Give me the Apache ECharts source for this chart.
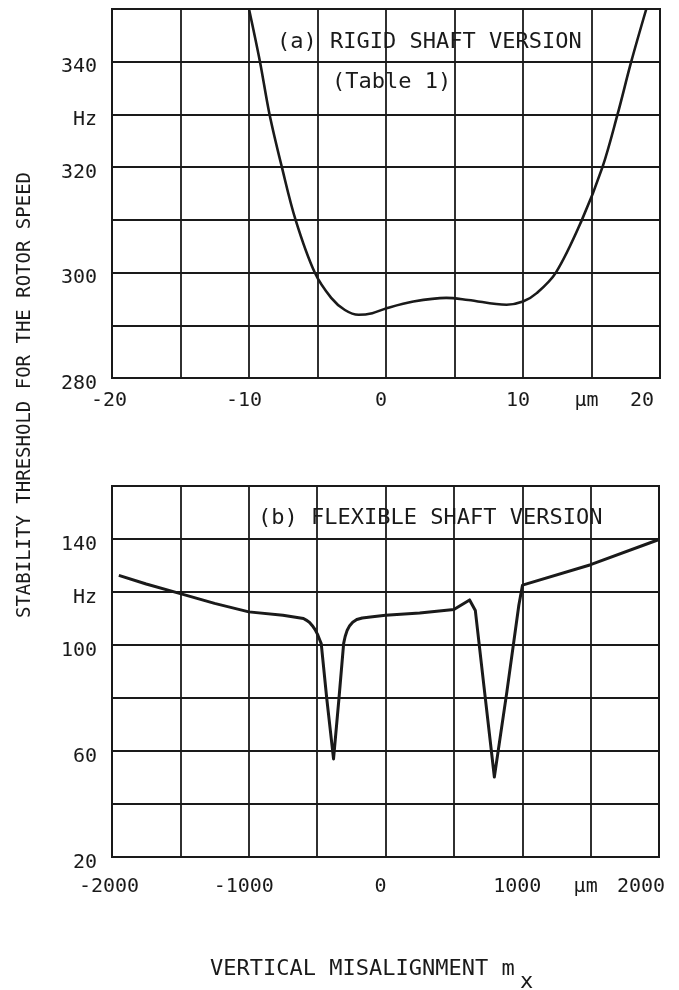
<!DOCTYPE html>
<html>
<head>
<meta charset="utf-8">
<script src="https://cdn.jsdelivr.net/npm/echarts@6/dist/echarts.min.js"></script>
<style>
html,body{margin:0;padding:0;background:#ffffff;}
#chart{width:679px;height:990px;}
</style>
</head>
<body>
<div id="chart"></div>
<script>
// ---- Data ----
// (a) rigid shaft version: misalignment (µm) vs threshold (Hz)
const rigidX = [-10.0, -9.2, -8.5, -7.6, -6.6, -5.2, -4.0, -3.0, -2.0, -1.0, 0.0, 2.0, 4.4, 6.0, 8.8, 10.0, 11.0, 12.4, 14.3, 15.8, 16.9, 17.9, 19.0];
const rigidY = [350, 340, 330, 320, 310, 300, 295.2, 292.9, 292.0, 292.3, 293.2, 294.5, 295.2, 294.8, 293.9, 294.5, 296.1, 300, 310, 320, 330, 340, 350];
// (b) flexible shaft version
const flexX = [-1950, -1750, -1500, -1250, -1000, -750, -600, -580, -555, -535, -515, -495, -480, -470, -430, -380, -340, -306, -295, -280, -262, -240, -210, -170, -110, 0, 250, 500, 615, 657, 720, 796, 888, 975, 1002, 1500, 2000];
const flexY = [126.3, 123.0, 119.4, 115.7, 112.5, 111.2, 110.0, 109.4, 108.5, 107.3, 105.8, 103.8, 101.8, 100.5, 80, 57, 80, 100.6, 103.2, 105.6, 107.3, 108.6, 109.6, 110.2, 110.6, 111.2, 112.1, 113.4, 117.0, 113.0, 84.4, 50.2, 82.5, 115.0, 122.6, 130.3, 139.8];
// tick labels
const topYLabels = {340: '340', 330: 'Hz', 320: '320', 300: '300', 280: '280'};
const botYLabels = {140: '140', 120: 'Hz', 100: '100', 60: '60', 20: '20'};
const topXLabels = {'-20': '-20', '-10': '-10', '0': '0', '10': '10', '15': 'μm', '20': '20'};
const botXLabels = {'-2000': '-2000', '-1000': '-1000', '0': '0', '1000': '1000', '1500': 'μm', '2000': '2000'};

const FONT = '"DejaVu Sans Mono", monospace';
const INK = '#1a1a1a';

const chart = echarts.init(document.getElementById('chart'), null, {renderer: 'canvas'});

function xAxisCfg(gi, min, max, interval, labels, margin) {
  return {
    type: 'value', gridIndex: gi, min: min, max: max, interval: interval,
    axisLine: {show: false}, axisTick: {show: false},
    splitLine: {show: true, lineStyle: {color: INK, width: 1.8}},
    axisLabel: {
      margin: margin, color: INK, fontFamily: FONT, fontSize: 20,
      formatter: function (v) { const s = labels[String(v)]; return s === undefined ? '' : '{' + (v === max ? 'r' : (v === min ? 'l' : 'n')) + '|' + s + '}'; },
      rich: {
        n: {fontFamily: FONT, fontSize: 20, color: INK, padding: [0, 10, 0, 0]},
        l: {fontFamily: FONT, fontSize: 20, color: INK, padding: [0, 6, 0, 0]},
        r: {fontFamily: FONT, fontSize: 20, color: INK, padding: [0, 36, 0, 0]}
      }
    }
  };
}
function yAxisCfg(gi, min, max, interval, labels) {
  return {
    type: 'value', gridIndex: gi, min: min, max: max, interval: interval,
    axisLine: {show: false}, axisTick: {show: false},
    splitLine: {show: true, lineStyle: {color: INK, width: 1.8}},
    axisLabel: {
      margin: 15, color: INK, fontFamily: FONT, fontSize: 20,
      formatter: function (v) { const s = labels[v]; return s === undefined ? '' : '{p|' + s + '}'; },
      rich: {p: {fontFamily: FONT, fontSize: 20, color: INK, padding: [11, 0, 0, 0]}}
    }
  };
}

const option = {
  backgroundColor: '#ffffff',
  animation: false,
  grid: [
    {left: 112, right: 19, top: 9, bottom: 612, show: true, borderColor: INK, borderWidth: 2, backgroundColor: 'transparent'},
    {left: 112, right: 20, top: 486, bottom: 133, show: true, borderColor: INK, borderWidth: 2, backgroundColor: 'transparent'}
  ],
  xAxis: [
    xAxisCfg(0, -20, 20, 5, topXLabels, 13),
    xAxisCfg(1, -2000, 2000, 500, botXLabels, 20)
  ],
  yAxis: [
    yAxisCfg(0, 280, 350, 10, topYLabels),
    yAxisCfg(1, 20, 160, 20, botYLabels)
  ],
  series: [
    {
      type: 'line', xAxisIndex: 0, yAxisIndex: 0, showSymbol: false, smooth: 0.35, clip: true,
      lineStyle: {color: INK, width: 2.6},
      data: rigidX.map((x, i) => [x, rigidY[i]])
    },
    {
      type: 'line', xAxisIndex: 1, yAxisIndex: 1, showSymbol: false, smooth: false, clip: true,
      lineStyle: {color: INK, width: 3, join: 'round'},
      data: flexX.map((x, i) => [x, flexY[i]])
    }
  ],
  graphic: [
    {type: 'text', left: 277, top: 31, style: {text: '(a) RIGID SHAFT VERSION', font: '22px ' + FONT, fill: INK}},
    {type: 'text', left: 332, top: 71, style: {text: '(Table 1)', font: '22px ' + FONT, fill: INK}},
    {type: 'text', left: 258, top: 507, style: {text: '(b) FLEXIBLE SHAFT VERSION', font: '22px ' + FONT, fill: INK}},
    {type: 'text', x: 25, y: 395, rotation: Math.PI / 2,
     style: {text: 'STABILITY THRESHOLD FOR THE ROTOR SPEED', font: '19px ' + FONT, fill: INK, align: 'center', verticalAlign: 'middle'}},
    {type: 'text', left: 210, top: 958, style: {text: 'VERTICAL MISALIGNMENT m', font: '22px ' + FONT, fill: INK}},
    {type: 'text', left: 520, top: 971, style: {text: 'x', font: '22px ' + FONT, fill: INK}}
  ]
};
chart.setOption(option);
</script>
</body>
</html>
